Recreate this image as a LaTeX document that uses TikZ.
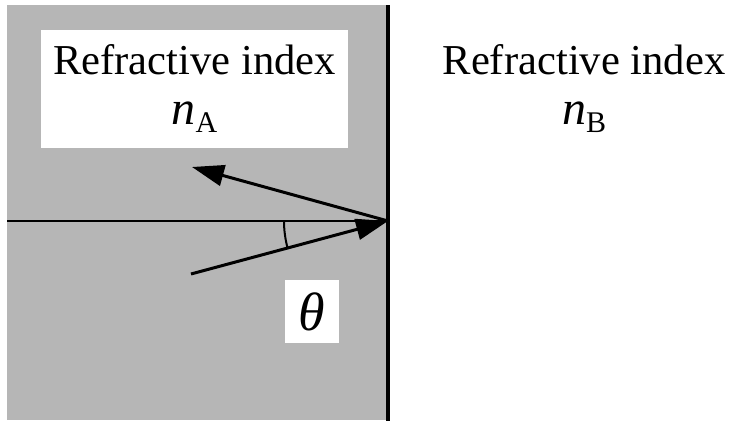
\documentclass[tikz,border=0pt]{standalone}
\usepackage{fontspec}
\setmainfont{Liberation Serif}
\usetikzlibrary{arrows.meta}
\definecolor{grisk}{RGB}{182,182,182}

\begin{document}
\begin{tikzpicture}[x=0.5pt,y=0.5pt,
    ray/.style={-{Triangle[length=16pt,width=10.5pt]},line width=1.5pt},
    idx/.style={font=\fontsize{21.3}{25}\selectfont,inner sep=0pt,anchor=base}]
  \useasboundingbox (0,0) rectangle (731,421);
  % medium A
  \fill[grisk] (7,1) rectangle (388,416);
  \draw[line width=1.8pt] (388,0) -- (388,416);
  \coordinate (hit) at (388,200);
  \coordinate (left) at (7,200);
  \draw[line width=1.2pt] (left) -- (hit);
  % labels
  \node[fill=white,minimum width=153.5pt,minimum height=59pt,inner sep=0pt] (boxA) at (194.5,332) {};
  \node[idx] (refA) at (194.5,346) {Refractive index};
  \node[idx] (nA) at (194.5,296) {{\fontsize{24}{25}\selectfont\textit{n}}\raisebox{-4pt}{\fontsize{15}{15}\selectfont A}};
  \node[idx] (refB) at (584,346) {Refractive index};
  \node[idx] (nB) at (584,296) {{\fontsize{24}{25}\selectfont\textit{n}}\raisebox{-4pt}{\fontsize{15}{15}\selectfont B}};
  % rays
  \coordinate (inc) at (191,147);
  \coordinate (refl) at (192,254);
  \draw[ray] (inc) -- (hit);
  \draw[ray] (hit) -- (refl);
  \draw[line width=1pt] (hit) ++(180:104) arc[start angle=180,end angle=195.06,radius=104];
  \node[fill=white,minimum width=27pt,minimum height=31.5pt,inner sep=0pt,
        font=\fontsize{27}{27}\selectfont] (theta) at (312,109.5) {\textit{θ}};
\end{tikzpicture}
\end{document}
